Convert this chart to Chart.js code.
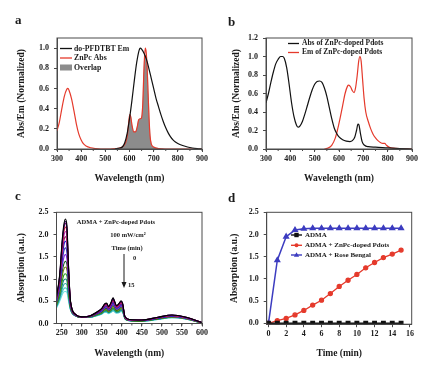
<!DOCTYPE html>
<html><head><meta charset="utf-8">
<script src="https://cdn.jsdelivr.net/npm/chart.js@4.4.1/dist/chart.umd.min.js"></script>
<style>
html,body{margin:0;padding:0;background:#fff;width:430px;height:365px;overflow:hidden}
canvas{position:absolute;left:0;top:0}
</style></head><body>
<canvas id="ca" width="430" height="365"></canvas>
<canvas id="cb" width="430" height="365"></canvas>
<canvas id="cc" width="430" height="365"></canvas>
<canvas id="cd" width="430" height="365"></canvas>
<script>
// ---------- Panel a ----------
const aEmX = [540,560,570,580,590,600,610,620,630,640,645,650,660,670,680,690,700,710,720,730,740,750,760,770,780,790,800,820,840,860,880,900];
const aEmY = [0,0.01,0.02,0.06,0.15,0.3,0.48,0.68,0.86,0.98,1.0,0.99,0.95,0.89,0.8,0.7,0.6,0.5,0.42,0.34,0.27,0.21,0.16,0.12,0.09,0.07,0.055,0.035,0.02,0.01,0.004,0];
const aAbsX = [300,310,320,330,340,345,350,360,370,380,390,400,410,420,440,460,480,520,540,560,575,585,592,597,601,605,610,618,625,632,638,645,650,655,660,665,669,673,677,681,685,690,700,720,750,800,900];
const aAbsY = [0.18,0.27,0.4,0.52,0.59,0.6,0.58,0.5,0.38,0.25,0.15,0.09,0.05,0.03,0.012,0.004,0,0,0.003,0.01,0.03,0.07,0.15,0.27,0.34,0.32,0.24,0.17,0.17,0.22,0.29,0.3,0.31,0.45,0.8,1.0,0.96,0.8,0.55,0.3,0.13,0.05,0.02,0.005,0,0,0];
const aOverlapX = [560,575,585,592,597,601,605,610,618,625,632,638,645,650,655,660,665,669,673,677,681,685,690,700,720,740];
const aOverlapY = [0.01,0.03,0.07,0.15,0.25,0.32,0.32,0.24,0.17,0.17,0.22,0.29,0.3,0.31,0.45,0.8,0.93,0.9,0.8,0.55,0.3,0.13,0.05,0.02,0.005,0];
const aXTicks = [300,400,500,600,700,800,900];
const aYTicks = [0,0.2,0.4,0.6,0.8,1.0];
const aLabels = ['do-PFDTBT Em','ZnPc Abs','Overlap'];

// ---------- Panel b ----------
const bAbsX = [300,310,320,330,340,350,360,368,375,385,395,405,415,425,432,440,450,460,470,480,490,500,510,520,530,540,550,560,570,580,590,600,615,630,645,655,665,672,678,682,688,695,705,720,750,800,850,900];
const bAbsY = [0.5,0.6,0.72,0.83,0.92,0.97,1.0,1.0,0.98,0.88,0.7,0.5,0.35,0.26,0.235,0.25,0.3,0.38,0.47,0.56,0.64,0.7,0.73,0.735,0.72,0.66,0.57,0.45,0.33,0.23,0.17,0.13,0.1,0.085,0.08,0.09,0.13,0.2,0.27,0.26,0.17,0.08,0.04,0.025,0.02,0.012,0.005,0];
const bEmX = [540,555,570,585,595,605,615,625,635,640,648,655,662,668,675,681,686,691,697,703,710,720,730,740,750,760,770,780,788,795,805,820,850,900];
const bEmY = [0,0.01,0.04,0.12,0.22,0.34,0.47,0.6,0.68,0.69,0.67,0.63,0.61,0.66,0.8,0.95,1.0,0.95,0.75,0.55,0.4,0.3,0.22,0.16,0.12,0.09,0.07,0.06,0.06,0.04,0.02,0.01,0.003,0];
const bXTicks = [300,400,500,600,700,800,900];
const bYTicks = [0,0.2,0.4,0.6,0.8,1.0,1.2];
const bLabels = ['Abs of ZnPc-doped Pdots','Em of ZnPc-doped Pdots'];

// ---------- Panel c ----------
const cWavelength = [237,245,251,255,259,263,267,272,285,300,320,340,350,357,362,367,373,378,382,387,393,398,402,408,420,450,490,525,560,600];
const cAbs_t0  = [0.60,1.10,1.85,2.20,2.35,2.20,1.30,0.50,0.20,0.15,0.17,0.27,0.34,0.44,0.46,0.38,0.47,0.58,0.50,0.40,0.45,0.51,0.45,0.15,0.09,0.08,0.14,0.19,0.14,0.02];
const cAbs_t1  = [0.59,1.08,1.81,2.15,2.30,2.15,1.28,0.49,0.20,0.15,0.17,0.27,0.34,0.43,0.45,0.38,0.46,0.57,0.49,0.40,0.44,0.50,0.44,0.15,0.09,0.08,0.14,0.19,0.14,0.02];
const cAbs_t2  = [0.58,1.06,1.78,2.11,2.25,2.11,1.25,0.49,0.20,0.15,0.17,0.26,0.33,0.43,0.45,0.37,0.46,0.56,0.49,0.39,0.44,0.50,0.44,0.15,0.09,0.08,0.14,0.19,0.14,0.02];
const cAbs_t3  = [0.57,1.03,1.72,2.04,2.17,2.03,1.21,0.48,0.20,0.15,0.17,0.26,0.33,0.42,0.44,0.36,0.45,0.55,0.47,0.38,0.43,0.48,0.43,0.14,0.09,0.08,0.13,0.18,0.14,0.02];
const cAbs_t4  = [0.56,1.00,1.64,1.94,2.07,1.94,1.16,0.47,0.19,0.15,0.16,0.26,0.32,0.41,0.42,0.35,0.43,0.53,0.46,0.37,0.41,0.47,0.42,0.14,0.08,0.07,0.13,0.18,0.13,0.02];
const cAbs_t5  = [0.54,0.95,1.55,1.84,1.95,1.83,1.10,0.45,0.19,0.15,0.16,0.25,0.31,0.39,0.41,0.34,0.42,0.51,0.44,0.36,0.40,0.45,0.40,0.14,0.08,0.07,0.13,0.18,0.13,0.02];
const cAbs_t6  = [0.52,0.92,1.48,1.74,1.85,1.74,1.05,0.44,0.19,0.15,0.16,0.24,0.30,0.38,0.40,0.33,0.40,0.49,0.43,0.35,0.39,0.44,0.39,0.13,0.08,0.07,0.12,0.17,0.13,0.02];
const cAbs_t7  = [0.50,0.86,1.37,1.61,1.70,1.60,0.98,0.42,0.19,0.15,0.16,0.23,0.29,0.36,0.38,0.32,0.38,0.46,0.40,0.33,0.37,0.41,0.37,0.13,0.08,0.07,0.12,0.17,0.12,0.02];
const cAbs_t8  = [0.48,0.81,1.26,1.47,1.55,1.46,0.91,0.40,0.18,0.15,0.16,0.23,0.28,0.35,0.36,0.30,0.36,0.43,0.38,0.32,0.35,0.39,0.35,0.13,0.08,0.07,0.12,0.16,0.12,0.02];
const cAbs_t9  = [0.45,0.75,1.15,1.33,1.40,1.33,0.83,0.38,0.18,0.14,0.15,0.22,0.26,0.33,0.34,0.29,0.34,0.41,0.36,0.30,0.33,0.37,0.33,0.12,0.07,0.06,0.11,0.16,0.12,0.01];
const cAbs_t10 = [0.43,0.70,1.05,1.21,1.27,1.21,0.77,0.37,0.18,0.14,0.15,0.21,0.25,0.31,0.32,0.27,0.32,0.38,0.34,0.29,0.31,0.35,0.32,0.12,0.07,0.06,0.11,0.15,0.11,0.01];
const cAbs_t11 = [0.41,0.65,0.94,1.08,1.12,1.07,0.70,0.35,0.18,0.14,0.15,0.20,0.24,0.30,0.30,0.26,0.30,0.35,0.32,0.27,0.29,0.33,0.30,0.11,0.07,0.06,0.10,0.14,0.11,0.01];
const cAbs_t12 = [0.39,0.60,0.85,0.97,1.00,0.96,0.64,0.33,0.17,0.14,0.14,0.20,0.23,0.28,0.29,0.25,0.29,0.33,0.30,0.26,0.28,0.31,0.28,0.11,0.07,0.06,0.10,0.14,0.11,0.01];
const cAbs_t13 = [0.38,0.57,0.77,0.87,0.90,0.87,0.59,0.32,0.17,0.14,0.14,0.19,0.22,0.27,0.27,0.24,0.27,0.31,0.29,0.25,0.26,0.30,0.27,0.11,0.06,0.05,0.10,0.14,0.10,0.01];
const cAbs_t14 = [0.36,0.53,0.70,0.78,0.80,0.77,0.54,0.31,0.17,0.14,0.14,0.18,0.22,0.26,0.26,0.23,0.26,0.29,0.27,0.24,0.25,0.28,0.26,0.10,0.06,0.05,0.09,0.13,0.10,0.01];
const cAbs_t15 = [0.35,0.50,0.64,0.71,0.72,0.70,0.50,0.30,0.17,0.14,0.14,0.18,0.21,0.25,0.25,0.22,0.25,0.28,0.26,0.23,0.24,0.27,0.25,0.10,0.06,0.05,0.09,0.13,0.10,0.01];
const cSpectra = [cAbs_t0,cAbs_t1,cAbs_t2,cAbs_t3,cAbs_t4,cAbs_t5,cAbs_t6,cAbs_t7,cAbs_t8,cAbs_t9,cAbs_t10,cAbs_t11,cAbs_t12,cAbs_t13,cAbs_t14,cAbs_t15];
const cXTicks = [250,300,350,400,450,500,550,600];
const cYTicks = [0,0.5,1.0,1.5,2.0,2.5];

// ---------- Panel d ----------
const dTime = [0,1,2,3,4,5,6,7,8,9,10,11,12,13,14,15];
const dADMA = [0,0,0,0,0,0,0,0,0,0,0,0,0,0,0,0];
const dZnPc = [0,0.06,0.11,0.19,0.29,0.41,0.52,0.67,0.83,0.97,1.10,1.25,1.37,1.48,1.56,1.65];
const dRose = [0,1.42,1.95,2.10,2.13,2.14,2.14,2.14,2.14,2.14,2.14,2.14,2.14,2.14,2.14,2.14];
const dXTicks = [0,2,4,6,8,10,12,14,16];
const dYTicks = [0,0.5,1.0,1.5,2.0,2.5];
const dLabels = ['ADMA','ADMA + ZnPc-doped Pdots','ADMA + Rose Bengal'];

// ---------- styling ----------
const SERIF = "'Liberation Serif','Times New Roman',serif";
const INK = '#1a1a1a', AXIS = '#4a4a4a';
const RED = '#e53a2c', BLACK = '#111111', GREY = '#8c8c8c', BLUE = '#3c3cc0';
const cColors = ['#000000','#2a0a5a','#800080','#d01010','#c020c0','#801040','#1010e0','#4040b0','#8020e0','#106010','#808010','#20a020','#108080','#30a8a8','#50cccc','#70e0e0'];

function xy(xs, ys){ return xs.map((x,i)=>({x:x, y:ys[i]})); }
const fmt1 = v => Number(v).toFixed(1);
const fmt0 = v => String(Math.round(v));

function framePlugin(minorStep, extra){
  return {
    id:'frame',
    afterDraw(chart){
      const {ctx, chartArea:a, scales} = chart;
      ctx.save();
      ctx.strokeStyle = AXIS; ctx.lineWidth = 1;
      ctx.strokeRect(a.left, a.top, a.right-a.left, a.bottom-a.top);
      if (minorStep){
        const sx = scales.x;
        ctx.beginPath();
        for (let v = Math.ceil(sx.min/minorStep)*minorStep; v <= sx.max; v += minorStep){
          const px = sx.getPixelForValue(v);
          ctx.moveTo(px, a.bottom); ctx.lineTo(px, a.bottom+2);
        }
        ctx.stroke();
      }
      if (extra) extra(ctx, chart);
      ctx.restore();
    }
  };
}

function build(id, area, yW, xH, datasets, xs, ys, minorStep, extra){
  const pad = {left: area.l - yW, top: area.t, right: 430 - area.r, bottom: 365 - area.b - xH};
  const tickFont = {family: SERIF, size: 8, weight: 'bold'};
  const titleFont = {family: SERIF, size: 9.5, weight: 'bold', lineHeight: 1.2};
  return new Chart(document.getElementById(id), {
    type: 'line',
    data: {datasets: datasets},
    options: {
      responsive: false, animation: false, events: [],
      layout: {padding: pad},
      plugins: {legend: {display: false}, tooltip: {enabled: false}},
      scales: {
        x: {type: 'linear', min: xs.min, max: xs.max,
            afterFit: s => { s.height = xH; },
            afterBuildTicks: s => { s.ticks = xs.ticks.map(v => ({value: v})); },
            ticks: {font: tickFont, color: INK, padding: 2, maxRotation: 0, autoSkip: false, callback: xs.fmt},
            grid: {drawOnChartArea: false, drawTicks: true, tickLength: 3, color: AXIS},
            border: {display: true, color: AXIS},
            title: {display: true, text: xs.title, font: titleFont, color: INK, padding: 0}},
        y: {type: 'linear', min: ys.min, max: ys.max,
            afterFit: s => { s.width = yW; },
            afterBuildTicks: s => { s.ticks = ys.ticks.map(v => ({value: v})); },
            ticks: {font: tickFont, color: INK, padding: 5, autoSkip: false, callback: ys.fmt},
            grid: {drawOnChartArea: false, drawTicks: true, tickLength: 3, color: AXIS},
            border: {display: true, color: AXIS},
            title: {display: true, text: ys.title, font: titleFont, color: INK, padding: 0}}
      }
    },
    plugins: [framePlugin(minorStep, extra)]
  });
}

function letter(ctx, t, x, y){
  ctx.fillStyle = INK; ctx.font = "bold 13px " + SERIF; ctx.textBaseline = 'alphabetic'; ctx.textAlign = 'left';
  ctx.fillText(t, x, y);
}

// Panel a
build('ca', {l:57, t:38, r:202, b:149}, 41, 35, [
  {data: xy(aEmX, aEmY), borderColor: BLACK, borderWidth: 1.2, pointRadius: 0, cubicInterpolationMode: 'monotone', fill: false},
  {data: xy(aAbsX, aAbsY), borderColor: RED, borderWidth: 1.2, pointRadius: 0, cubicInterpolationMode: 'monotone', fill: false},
  {data: xy(aOverlapX, aOverlapY), borderColor: GREY, backgroundColor: GREY, borderWidth: 0.5, pointRadius: 0, cubicInterpolationMode: 'monotone', fill: 'origin'}
], {min: 300, max: 900, ticks: aXTicks, fmt: fmt0, title: 'Wavelength (nm)'},
   {min: 0, max: 1.1, ticks: aYTicks, fmt: fmt1, title: 'Abs/Em (Normalized)'}, 50,
  (ctx) => {
    letter(ctx, 'a', 15, 24);
    ctx.font = "bold 7.8px " + SERIF; ctx.textBaseline = 'middle'; ctx.fillStyle = INK; ctx.textAlign = 'left';
    ctx.lineWidth = 1.3;
    ctx.strokeStyle = BLACK; ctx.beginPath(); ctx.moveTo(60, 48.5); ctx.lineTo(72, 48.5); ctx.stroke();
    ctx.strokeStyle = RED; ctx.beginPath(); ctx.moveTo(60, 58); ctx.lineTo(72, 58); ctx.stroke();
    ctx.fillStyle = GREY; ctx.fillRect(60, 64.5, 12, 6);
    ctx.fillStyle = INK;
    ctx.fillText(aLabels[0], 74, 48.5); ctx.fillText(aLabels[1], 74, 58); ctx.fillText(aLabels[2], 74, 67.5);
  });

// Panel b
build('cb', {l:266, t:38, r:412, b:149}, 35, 35, [
  {data: xy(bAbsX, bAbsY), borderColor: BLACK, borderWidth: 1.2, pointRadius: 0, cubicInterpolationMode: 'monotone'},
  {data: xy(bEmX, bEmY), borderColor: RED, borderWidth: 1.2, pointRadius: 0, cubicInterpolationMode: 'monotone'}
], {min: 300, max: 900, ticks: bXTicks, fmt: fmt0, title: 'Wavelength (nm)'},
   {min: 0, max: 1.2, ticks: bYTicks, fmt: fmt1, title: 'Abs/Em (Normalized)'}, 50,
  (ctx) => {
    letter(ctx, 'b', 228, 26);
    ctx.font = "bold 7.5px " + SERIF; ctx.textBaseline = 'middle'; ctx.textAlign = 'left';
    ctx.lineWidth = 1.3;
    ctx.strokeStyle = BLACK; ctx.beginPath(); ctx.moveTo(288, 43.5); ctx.lineTo(299, 43.5); ctx.stroke();
    ctx.strokeStyle = RED; ctx.beginPath(); ctx.moveTo(288, 52.5); ctx.lineTo(299, 52.5); ctx.stroke();
    ctx.fillStyle = INK;
    ctx.fillText(bLabels[0], 302, 43.5); ctx.fillText(bLabels[1], 302, 52.5);
  });

// Panel c
build('cc', {l:56.5, t:212.3, r:202, b:323.5}, 40.5, 35.5,
  cSpectra.map((s, i) => ({data: xy(cWavelength, s), borderColor: cColors[i], borderWidth: 1.1, pointRadius: 0, cubicInterpolationMode: 'monotone'})),
  {min: 237, max: 600, ticks: cXTicks, fmt: fmt0, title: 'Wavelength (nm)'},
  {min: 0, max: 2.5, ticks: cYTicks, fmt: fmt1, title: 'Absorption (a.u.)'}, 25,
  (ctx) => {
    letter(ctx, 'c', 15, 200);
    ctx.fillStyle = INK; ctx.textBaseline = 'middle';
    ctx.font = "bold 6.5px " + SERIF; ctx.textAlign = 'center';
    ctx.fillText('ADMA + ZnPc-doped Pdots', 116, 222.5);
    ctx.fillText('100 mW/cm\u00B2', 128, 235);
    ctx.fillText('Time (min)', 127, 248);
    ctx.textAlign = 'left';
    ctx.fillText('0', 133, 258);
    ctx.fillText('15', 128, 285.5);
    ctx.strokeStyle = INK; ctx.lineWidth = 1;
    ctx.beginPath(); ctx.moveTo(124, 254); ctx.lineTo(124, 286); ctx.stroke();
    ctx.beginPath(); ctx.moveTo(121.5, 282); ctx.lineTo(124, 288); ctx.lineTo(126.5, 282); ctx.closePath(); ctx.fill();
  });

// Panel d
build('cd', {l:266.7, t:212.3, r:411.7, b:324.2}, 37.7, 35, [
  {data: xy(dTime, dADMA), borderColor: BLACK, backgroundColor: BLACK, borderWidth: 1.5, pointStyle: 'rect', pointRadius: 2.4, tension: 0},
  {data: xy(dTime, dZnPc), borderColor: RED, backgroundColor: RED, borderWidth: 1.3, pointStyle: 'circle', pointRadius: 2, tension: 0},
  {data: xy(dTime, dRose), borderColor: BLUE, backgroundColor: BLUE, borderWidth: 1.5, pointStyle: 'triangle', pointRadius: 2.6, tension: 0}
], {min: -0.2, max: 16.2, ticks: dXTicks, fmt: fmt0, title: 'Time (min)'},
   {min: -0.02, max: 2.5, ticks: dYTicks, fmt: fmt1, title: 'Absorption (a.u.)'}, 0,
  (ctx) => {
    letter(ctx, 'd', 228, 202);
    const rows = [235, 245.3, 255];
    const cols = [BLACK, RED, BLUE];
    ctx.lineWidth = 1.4;
    rows.forEach((y, i) => {
      ctx.strokeStyle = cols[i]; ctx.fillStyle = cols[i];
      ctx.beginPath(); ctx.moveTo(291, y); ctx.lineTo(302, y); ctx.stroke();
      const cx = 296.5;
      if (i === 0) ctx.fillRect(cx-2.2, y-2.2, 4.4, 4.4);
      else if (i === 1) { ctx.beginPath(); ctx.arc(cx, y, 2, 0, Math.PI*2); ctx.fill(); }
      else { ctx.beginPath(); ctx.moveTo(cx, y-2.8); ctx.lineTo(cx+2.6, y+1.8); ctx.lineTo(cx-2.6, y+1.8); ctx.closePath(); ctx.fill(); }
    });
    ctx.fillStyle = INK; ctx.font = "bold 7px " + SERIF; ctx.textBaseline = 'middle'; ctx.textAlign = 'left';
    rows.forEach((y, i) => ctx.fillText(dLabels[i], 305, y));
  });
</script>
</body></html>
